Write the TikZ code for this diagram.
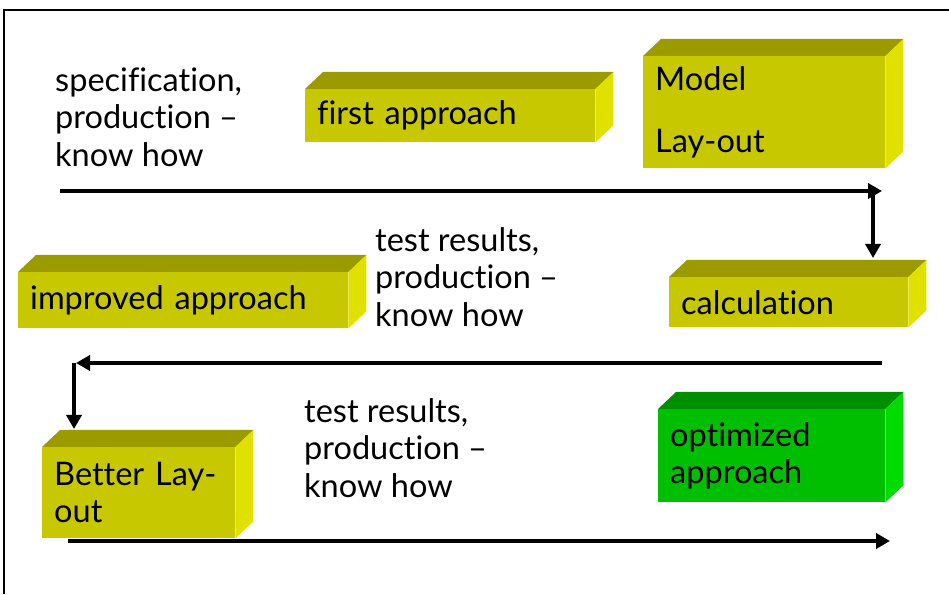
\documentclass[tikz,border=0pt]{standalone}
\usepackage{fontspec}
\setmainfont[Ligatures=NoCommon]{Lato}
\usetikzlibrary{arrows.meta}

\definecolor{frontolive}{HTML}{C8C800}
\definecolor{topolive}{HTML}{9B9B00}
\definecolor{sideolive}{HTML}{E1E100}
\definecolor{frontgreen}{HTML}{00BE00}
\definecolor{topgreen}{HTML}{008F00}
\definecolor{sidegreen}{HTML}{00DC00}

\newcommand{\bigtext}{\fontsize{32.5}{37.5}\selectfont}

\tikzset{
  face/.style={anchor=north west, inner xsep=12pt, inner ysep=0pt, align=left, font=\bigtext},
  note/.style={anchor=west, inner sep=0pt, align=left, font=\bigtext},
  flow/.style={line width=3.5pt, -{Triangle[length=14pt,width=15pt]}}
}

\begin{document}
\begin{tikzpicture}[x=1pt, y=1pt]
\useasboundingbox (0,0) rectangle (949,594);
\draw[line width=2.5pt] (949,584) -- (4,584) -- (4,0);

\node[note] (spec) at (55,477) {specification,\\production –\\know how};
\node[face, fill=frontolive, text width=266pt, minimum height=53pt] (first) at (305,505) {first approach};
\node[face, fill=frontolive, text width=218pt, minimum height=112pt] (model) at (643,538) {Model\\[24pt]Lay-out};

\node[note] (test1) at (375,317) {test results,\\production –\\know how};
\node[face, fill=frontolive, text width=306pt, minimum height=56pt] (improved) at (18,322) {improved approach};
\node[face, fill=frontolive, text width=215pt, minimum height=50pt] (calc) at (669,317) {calculation};

\node[note] (test2) at (304,146) {test results,\\production –\\know how};
\node[face, fill=frontolive, text width=169pt, minimum height=91pt] (better) at (42,147) {Better Lay-\\out};
\node[face, fill=frontgreen, text width=203pt, minimum height=93pt] (optimized) at (658,185) {optimized\\approach};

\foreach \n/\c in {first/olive, model/olive, improved/olive, calc/olive, better/olive, optimized/green}{
  \fill[top\c] (\n.north west) -- ++(18,17) -- ([shift={(18,17)}]\n.north east) -- (\n.north east) -- cycle;
  \fill[side\c] (\n.north east) -- ++(18,17) -- ([shift={(18,17)}]\n.south east) -- (\n.south east) -- cycle;
}

\coordinate (topstart) at (60,403);
\coordinate (topend) at (882,403);
\coordinate (calcdrop) at (873,403);
\coordinate (calctop) at (873,336);
\coordinate (midstart) at (882,231);
\coordinate (midend) at (76,231);
\coordinate (betterdrop) at (74,231);
\coordinate (bettertop) at (74,165);
\coordinate (lowstart) at (68,53);
\coordinate (lowend) at (890,53);

\draw[flow] (topstart) -- (topend);
\draw[flow] (calcdrop) -- (calctop);
\draw[flow] (midstart) -- (midend);
\draw[flow] (betterdrop) -- (bettertop);
\draw[flow] (lowstart) -- (lowend);
\end{tikzpicture}
\end{document}
